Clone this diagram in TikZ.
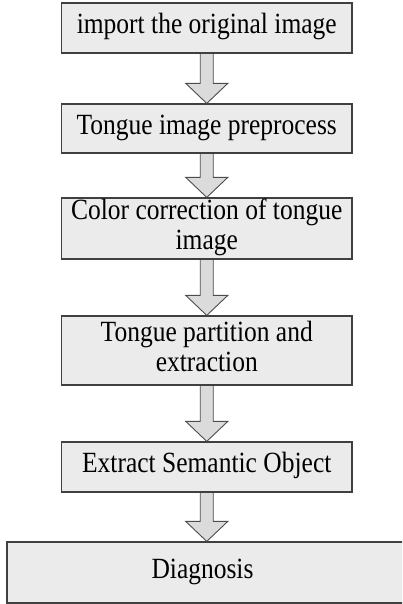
\documentclass[tikz,border=0pt]{standalone}
\usepackage{fontspec}
\setmainfont{Liberation Serif}
\usetikzlibrary{calc}
\newcommand{\stxt}[1]{\scalebox{1}[1.15]{\begin{tabular}{@{}c@{}}#1\end{tabular}}}
\newcommand{\flowarrow}[2]{%
  \coordinate (s) at ($(#1.south)+(0,-0.6)$);
  \coordinate (t) at (#2.north -| #1.south);
  \fill[arrowfill] ($(s)+(-6.5,0)$) -- ($(t)+(-6.5,20)$) -- ($(t)+(-21,20)$) -- (t)
     -- ($(t)+(21,20)$) -- ($(t)+(6.5,20)$) -- ($(s)+(6.5,0)$) -- cycle;
  \draw[arrowline] ($(s)+(-6.5,0)$) -- ($(t)+(-6.5,20)$) -- ($(t)+(-21,20)$) -- (t)
     -- ($(t)+(21,20)$) -- ($(t)+(6.5,20)$) -- ($(s)+(6.5,0)$);
}
\begin{document}
\begin{tikzpicture}[x=1pt,y=1pt,
  boxnode/.style={draw=black!75, line width=1.2pt, fill=black!8, inner sep=0pt,
    font=\fontsize{25.5}{26}\selectfont},
  arrowfill/.style={fill=black!14},
  arrowline/.style={draw=black!70, line width=0.9pt, line join=miter}]
\useasboundingbox (0,0) rectangle (402,-604);
\node[boxnode, minimum width=290.5, minimum height=50] (b1) at (206.75,-28)
  {\stxt{import the original image}};
\node[boxnode, minimum width=290.5, minimum height=49] (b2) at (206.75,-128.5)
  {\stxt{Tongue image preprocess}};
\node[boxnode, minimum width=290.5, minimum height=61] (b3) at (206.75,-228.5)
  {\stxt{Color correction of tongue\\image}};
\node[boxnode, minimum width=290.5, minimum height=69] (b4) at (206.75,-350.5)
  {\stxt{Tongue partition and\\extraction}};
\node[boxnode, minimum width=290.5, minimum height=50] (b5) at (206.75,-467)
  {\stxt{Extract Semantic Object}};
\begin{scope}
\clip (0,0) rectangle (402,-604);
\node[boxnode, minimum width=403, minimum height=61] (b6) at (208.5,-572.5)
  {\stxt{Diagnosis\hspace*{12pt}}};
\end{scope}
\flowarrow{b1}{b2}
\flowarrow{b2}{b3}
\flowarrow{b3}{b4}
\flowarrow{b4}{b5}
\flowarrow{b5}{b6}
\end{tikzpicture}
\end{document}
